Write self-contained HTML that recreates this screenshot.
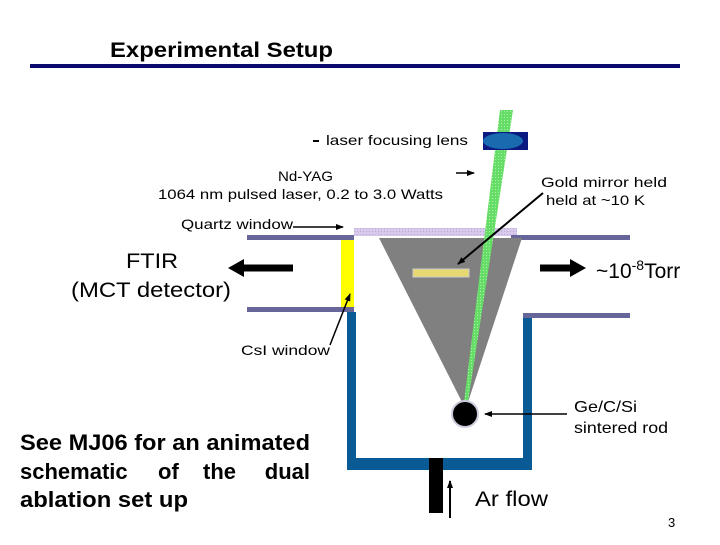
<!DOCTYPE html>
<html><head><style>
body{margin:0;width:720px;height:540px;background:#fff;overflow:hidden;font-family:"Liberation Sans",Arial,sans-serif}
</style></head><body>
<svg width="720" height="540" xmlns="http://www.w3.org/2000/svg" font-family="Liberation Sans, Arial, sans-serif">
<defs>
<pattern id="g" width="3" height="3" patternUnits="userSpaceOnUse"><rect width="3" height="3" fill="#66dd66"/><rect width="1" height="1" fill="#aaf0aa"/></pattern>
<pattern id="q" width="3" height="3" patternUnits="userSpaceOnUse"><rect width="3" height="3" fill="#d8c8ec"/><rect width="1" height="1" fill="#b8a8d8"/></pattern>
<marker id="a" markerWidth="8" markerHeight="8" refX="7" refY="4" orient="auto" markerUnits="userSpaceOnUse"><path d="M0,1 L8,4 L0,7z" fill="#000"/></marker>
</defs>
<text x="110" y="57" font-size="21" font-weight="bold" textLength="223" lengthAdjust="spacingAndGlyphs">Experimental Setup</text>
<rect x="30" y="64" width="650" height="4" fill="#0a0a6e"/>
<rect x="354" y="228" width="163" height="8" fill="url(#q)"/>
<rect x="247" y="235" width="107" height="5" fill="#66669a"/>
<rect x="247" y="307" width="107" height="5" fill="#66669a"/>
<rect x="511" y="235" width="119" height="5" fill="#66669a"/>
<rect x="523" y="313" width="107" height="5" fill="#66669a"/>
<rect x="341" y="240" width="13" height="67" fill="#ffff00"/>
<rect x="347" y="312" width="9" height="158" fill="#0a5a96"/>
<rect x="523" y="318" width="9" height="152" fill="#0a5a96"/>
<rect x="347" y="458" width="185" height="12" fill="#0a5a96"/>
<polygon points="379,238 522,238 468,402 462,402" fill="#808080"/>
<polygon points="500,110 513,110 468,402 464,402" fill="url(#g)"/>
<rect x="413" y="269" width="56" height="8" fill="#e8d870" stroke="#ccc"/>
<circle cx="465" cy="414" r="13" fill="#000" stroke="#ccd" stroke-width="2"/>
<rect x="429" y="458" width="14" height="55" fill="#000"/>
<line x1="450" y1="518" x2="450" y2="481" stroke="#000" stroke-width="2" marker-end="url(#a)"/>
<rect x="483" y="132" width="45" height="18" fill="#0a1a80"/>
<ellipse cx="503" cy="141" rx="20" ry="8" fill="#1a6ab0"/>
<rect x="313" y="140" width="6" height="2" fill="#000"/>
<text x="326" y="145" font-size="14" textLength="142" lengthAdjust="spacingAndGlyphs">laser focusing lens</text>
<text x="278" y="181" font-size="14" textLength="55" lengthAdjust="spacingAndGlyphs">Nd-YAG</text>
<text x="158" y="199" font-size="14" textLength="285" lengthAdjust="spacingAndGlyphs">1064 nm pulsed laser, 0.2 to 3.0 Watts</text>
<line x1="456" y1="173" x2="474" y2="173" stroke="#000" stroke-width="1.5" marker-end="url(#a)"/>
<text x="541" y="187" font-size="14" textLength="126" lengthAdjust="spacingAndGlyphs">Gold mirror held</text>
<text x="546" y="205" font-size="14" textLength="99" lengthAdjust="spacingAndGlyphs">held at ~10 K</text>
<line x1="543" y1="193" x2="458" y2="264" stroke="#000" stroke-width="2" marker-end="url(#a)"/>
<text x="181" y="229" font-size="14" textLength="112" lengthAdjust="spacingAndGlyphs">Quartz window</text>
<line x1="293" y1="227" x2="343" y2="227" stroke="#000" stroke-width="1.5" marker-end="url(#a)"/>
<text x="126" y="268" font-size="21" textLength="52" lengthAdjust="spacingAndGlyphs">FTIR</text>
<text x="71" y="297" font-size="21" textLength="160" lengthAdjust="spacingAndGlyphs">(MCT detector)</text>
<line x1="293" y1="268" x2="240" y2="268" stroke="#000" stroke-width="7"/>
<path d="M228,268 L244,259 L244,277z" fill="#000"/>
<line x1="540" y1="268" x2="574" y2="268" stroke="#000" stroke-width="7"/>
<path d="M586,268 L570,259 L570,277z" fill="#000"/>
<text x="596" y="278" font-size="21">~10<tspan font-size="14" dy="-8">-8</tspan><tspan dy="8">Torr</tspan></text>
<text x="241" y="355" font-size="14" textLength="89" lengthAdjust="spacingAndGlyphs">CsI window</text>
<line x1="330" y1="345" x2="350" y2="294" stroke="#000" stroke-width="1.5" marker-end="url(#a)"/>
<text x="574" y="412" font-size="16" textLength="63" lengthAdjust="spacingAndGlyphs">Ge/C/Si</text>
<text x="574" y="433" font-size="16" textLength="94" lengthAdjust="spacingAndGlyphs">sintered rod</text>
<line x1="567" y1="414" x2="485" y2="414" stroke="#000" stroke-width="1.5" marker-end="url(#a)"/>
<text x="475" y="506" font-size="21" textLength="73" lengthAdjust="spacingAndGlyphs">Ar flow</text>
<text x="20" y="450" font-size="22" font-weight="bold" textLength="290" lengthAdjust="spacingAndGlyphs">See MJ06 for an animated</text>
<text x="20" y="479" font-size="22" font-weight="bold">schematic</text>
<text x="158" y="479" font-size="22" font-weight="bold">of</text>
<text x="203" y="479" font-size="22" font-weight="bold">the</text>
<text x="310" y="479" font-size="22" font-weight="bold" text-anchor="end">dual</text>
<text x="20" y="507" font-size="22" font-weight="bold" textLength="168" lengthAdjust="spacingAndGlyphs">ablation set up</text>
<text x="668" y="527" font-size="13">3</text>
</svg>
</body></html>
